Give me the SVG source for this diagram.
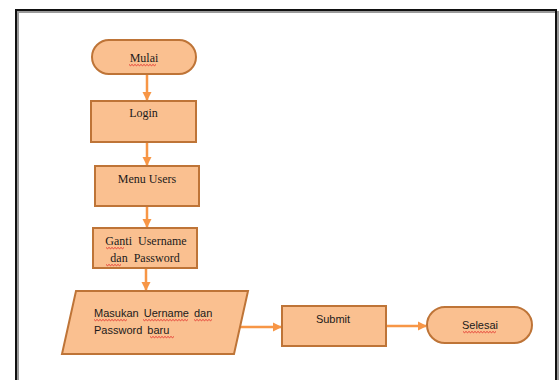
<svg xmlns="http://www.w3.org/2000/svg" width="559" height="380" viewBox="0 0 559 380">
<style>
.shape{fill:#FAC090;stroke:#BE7437;stroke-width:2}
.serif{font-family:"Liberation Serif","Times New Roman",serif;font-size:12px;fill:#1a1a1a}
.sans{font-family:"Liberation Sans",Arial,sans-serif;font-size:11px;fill:#1a1a1a}
.conn{stroke:#F79646;stroke-width:2.5;fill:none}
.sq{stroke:#E02020;stroke-width:0.8;fill:none}
</style>
<defs>
<marker id="ah" markerUnits="userSpaceOnUse" markerWidth="10" markerHeight="10" refX="8" refY="5" orient="auto">
<path d="M0,0.5 L9,5 L0,9.5 z" fill="#F79646"/>
</marker>
</defs>
<rect width="559" height="380" fill="#ffffff"/>
<g id="frame">
<rect x="18" y="12" width="540" height="400" fill="none" stroke="#9a9a9a" stroke-width="2"/>
<rect x="16" y="10" width="540" height="400" fill="none" stroke="#111" stroke-width="2"/>
</g>
<g id="connectors">
<line class="conn" x1="147" y1="75" x2="147" y2="100" marker-end="url(#ah)"/>
<line class="conn" x1="147" y1="143" x2="147" y2="165" marker-end="url(#ah)"/>
<line class="conn" x1="147" y1="207" x2="147" y2="227" marker-end="url(#ah)"/>
<line class="conn" x1="146" y1="268" x2="146" y2="290" marker-end="url(#ah)"/>
<line class="conn" x1="240" y1="327" x2="281" y2="327" marker-end="url(#ah)"/>
<line class="conn" x1="387" y1="326" x2="426" y2="326" marker-end="url(#ah)"/>
</g>
<g id="mulai">
<rect class="shape" x="92" y="40" width="104" height="34" rx="17" ry="17"/>
<text class="serif" x="144" y="62" text-anchor="middle">Mulai</text>
<path class="sq" d="M129,64.5 l1.5,1.2 l1.5,-1.2 l1.5,1.2 l1.5,-1.2 l1.5,1.2 l1.5,-1.2 l1.5,1.2 l1.5,-1.2 l1.5,1.2 l1.5,-1.2 l1.5,1.2 l1.5,-1.2 l1.5,1.2 l1.5,-1.2 l1.5,1.2 l1.5,-1.2 l1.5,1.2 l1.5,-1.2"/>
</g>
<g id="login">
<rect class="shape" x="91" y="101" width="105" height="41"/>
<text class="serif" x="143.5" y="117" text-anchor="middle">Login</text>
</g>
<g id="menu-users">
<rect class="shape" x="95" y="166" width="104" height="40"/>
<text class="serif" x="147" y="183" text-anchor="middle">Menu Users</text>
</g>
<g id="ganti">
<rect class="shape" x="93" y="228" width="104" height="40"/>
<text class="serif" x="146" y="245" text-anchor="middle" word-spacing="3">Ganti Username</text>
<text class="serif" x="145" y="262" text-anchor="middle" word-spacing="3">dan Password</text>
<path class="sq" d="M106,247.5 l1.5,1.2 l1.5,-1.2 l1.5,1.2 l1.5,-1.2 l1.5,1.2 l1.5,-1.2 l1.5,1.2 l1.5,-1.2 l1.5,1.2 l1.5,-1.2 l1.5,1.2 l1.5,-1.2"/>
<path class="sq" d="M106,264.5 l1.5,1.2 l1.5,-1.2 l1.5,1.2 l1.5,-1.2 l1.5,1.2 l1.5,-1.2 l1.5,1.2 l1.5,-1.2 l1.5,1.2 l1.5,-1.2"/>
</g>
<g id="masukan">
<polygon class="shape" points="76,291 248,291 234,354 62,354"/>
<text class="sans" x="94" y="317" word-spacing="2">Masukan Uername dan</text>
<text class="sans" x="94" y="334" word-spacing="2">Password baru</text>
<path class="sq" d="M94,319.5 l1.5,1.2 l1.5,-1.2 l1.5,1.2 l1.5,-1.2 l1.5,1.2 l1.5,-1.2 l1.5,1.2 l1.5,-1.2 l1.5,1.2 l1.5,-1.2 l1.5,1.2 l1.5,-1.2 l1.5,1.2 l1.5,-1.2 l1.5,1.2 l1.5,-1.2 l1.5,1.2 l1.5,-1.2 l1.5,1.2 l1.5,-1.2 l1.5,1.2 l1.5,-1.2"/>
<path class="sq" d="M143,319.5 l1.5,1.2 l1.5,-1.2 l1.5,1.2 l1.5,-1.2 l1.5,1.2 l1.5,-1.2 l1.5,1.2 l1.5,-1.2 l1.5,1.2 l1.5,-1.2 l1.5,1.2 l1.5,-1.2 l1.5,1.2 l1.5,-1.2 l1.5,1.2 l1.5,-1.2 l1.5,1.2 l1.5,-1.2 l1.5,1.2 l1.5,-1.2 l1.5,1.2 l1.5,-1.2 l1.5,1.2 l1.5,-1.2 l1.5,1.2 l1.5,-1.2 l1.5,1.2 l1.5,-1.2 l1.5,1.2 l1.5,-1.2"/>
<path class="sq" d="M194,319.5 l1.5,1.2 l1.5,-1.2 l1.5,1.2 l1.5,-1.2 l1.5,1.2 l1.5,-1.2 l1.5,1.2 l1.5,-1.2 l1.5,1.2 l1.5,-1.2 l1.5,1.2 l1.5,-1.2"/>
<path class="sq" d="M150,336.5 l1.5,1.2 l1.5,-1.2 l1.5,1.2 l1.5,-1.2 l1.5,1.2 l1.5,-1.2 l1.5,1.2 l1.5,-1.2 l1.5,1.2 l1.5,-1.2 l1.5,1.2 l1.5,-1.2 l1.5,1.2 l1.5,-1.2 l1.5,1.2 l1.5,-1.2"/>
</g>
<g id="submit">
<rect class="shape" x="282" y="306" width="104" height="40"/>
<text class="sans" x="333" y="323" text-anchor="middle">Submit</text>
</g>
<g id="selesai">
<rect class="shape" x="427" y="307" width="105" height="36" rx="18" ry="18"/>
<text class="sans" x="480" y="329" text-anchor="middle">Selesai</text>
<path class="sq" d="M463,331.5 l1.5,1.2 l1.5,-1.2 l1.5,1.2 l1.5,-1.2 l1.5,1.2 l1.5,-1.2 l1.5,1.2 l1.5,-1.2 l1.5,1.2 l1.5,-1.2 l1.5,1.2 l1.5,-1.2 l1.5,1.2 l1.5,-1.2 l1.5,1.2 l1.5,-1.2 l1.5,1.2 l1.5,-1.2 l1.5,1.2 l1.5,-1.2 l1.5,1.2 l1.5,-1.2"/>
</g>
</svg>
